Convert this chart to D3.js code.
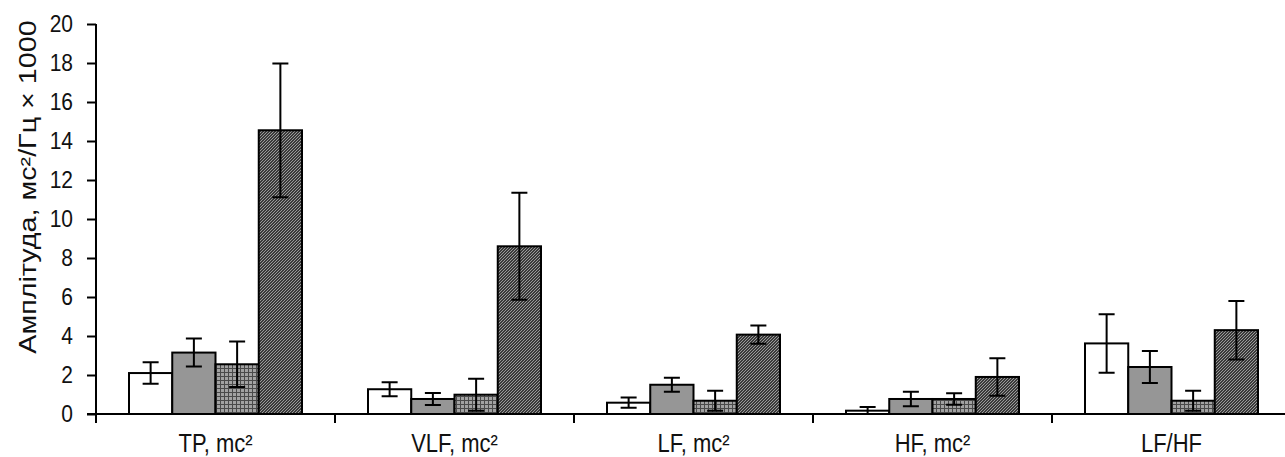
<!DOCTYPE html>
<html lang="uk">
<head>
<meta charset="UTF-8">
<title>Амплітуда спектра</title>
<script src="https://d3js.org/d3.v7.min.js"></script>
<style>
    body { margin: 0; background: #fff; }
    svg { display: block; font-family: "Liberation Sans", Arial, Helvetica, sans-serif; }
    .cat-label { font-size: 22px; fill: #111; }
    .y-title { font-size: 23px; fill: #111; }
    .bar { stroke: #000; stroke-width: 2px; }
    .err { stroke: #000; stroke-width: 2px; fill: none; }
</style>
</head>
<body>
<svg width="1285" height="457"></svg>
<script>
const categories = ["TP, mc²", "VLF, mc²", "LF, mc²", "HF, mc²", "LF/HF"];
const seriesNames = ["g1", "g2", "g3", "g4"];
const means1 = [2.1, 1.27, 0.58, 0.17, 3.62];
const errs1  = [0.55, 0.36, 0.26, 0.19, 1.5];
const means2 = [3.15, 0.77, 1.5, 0.77, 2.41];
const errs2  = [0.72, 0.31, 0.36, 0.37, 0.82];
const means3 = [2.55, 0.99, 0.68, 0.77, 0.68];
const errs3  = [1.17, 0.82, 0.51, 0.3, 0.51];
const means4 = [14.55, 8.6, 4.07, 1.9, 4.3];
const errs4  = [3.43, 2.74, 0.47, 0.96, 1.5];
const yTicks = [0, 2, 4, 6, 8, 10, 12, 14, 16, 18, 20];

const means = [means1, means2, means3, means4];
const errs = [errs1, errs2, errs3, errs4];
const fills = ["#ffffff", "#969696", "url(#grid)", "url(#hatch)"];

const svg = d3.select("svg");
const plotLeft = 96, plotTop = 24, plotBottom = 414, band = 239;
const textStretch = 1.15; // source picture text is a bit taller than wide

// patterns
const defs = svg.append("defs");
const grid = defs.append("pattern").attr("id", "grid")
    .attr("patternUnits", "userSpaceOnUse").attr("width", 4).attr("height", 4);
grid.append("rect").attr("width", 4).attr("height", 4).attr("fill", "#a2a2a2");
grid.append("path").attr("d", "M0.5,0V4M0,0.5H4").attr("stroke", "#4a4a4a").attr("stroke-width", 1);

const hatch = defs.append("pattern").attr("id", "hatch")
    .attr("patternUnits", "userSpaceOnUse").attr("width", 3).attr("height", 3);
hatch.append("rect").attr("width", 3).attr("height", 3).attr("fill", "#3a3a3a");
hatch.append("path").attr("d", "M0,3L3,0M-1,1L1,-1M2,4L4,2").attr("stroke", "#9a9a9a").attr("stroke-width", 1);

const x = d3.scaleBand().domain(categories).range([plotLeft, plotLeft + band * categories.length]);
const xi = d3.scaleBand().domain(seriesNames).range([33, band - 33]);
const y = d3.scaleLinear().domain([0, 20]).range([plotBottom, plotTop]);

// bars
const rows = [];
categories.forEach((c, i) => {
    seriesNames.forEach((s, j) => {
        rows.push({ cat: c, s: s, v: means[j][i], e: errs[j][i], fill: fills[j] });
    });
});

svg.append("g").selectAll("rect").data(rows).join("rect")
    .attr("class", "bar")
    .attr("x", d => x(d.cat) + xi(d.s))
    .attr("y", d => y(d.v))
    .attr("width", xi.bandwidth())
    .attr("height", d => y(0) - y(d.v))
    .attr("fill", d => d.fill);

// error bars
const capW = 8;
svg.append("g").selectAll("path").data(rows).join("path")
    .attr("class", "err")
    .attr("d", d => {
        const cx = x(d.cat) + xi(d.s) + xi.bandwidth() / 2;
        const hi = y(d.v + d.e), lo = y(Math.max(0, d.v - d.e));
        return `M${cx},${hi}V${lo}M${cx - capW},${hi}H${cx + capW}M${cx - capW},${lo}H${cx + capW}`;
    });

// y axis
const yAxis = svg.append("g").attr("transform", `translate(${plotLeft},0)`)
    .call(d3.axisLeft(y).tickValues(yTicks).tickSize(9).tickPadding(14).tickSizeOuter(0));
yAxis.selectAll("path, line").attr("stroke", "#000").attr("stroke-width", 2);
yAxis.select(".domain").attr("d", `M0,${plotTop}V${plotBottom + 9}`);
yAxis.selectAll("text")
    .attr("font-size", 21)
    .attr("font-family", "Liberation Sans, Arial, sans-serif")
    .attr("fill", "#111")
    .attr("transform", `scale(1,${textStretch})`);

// x axis
const xg = svg.append("g");
xg.append("line").attr("x1", plotLeft - 9).attr("x2", 1285).attr("y1", plotBottom).attr("y2", plotBottom)
    .attr("stroke", "#000").attr("stroke-width", 2);
xg.selectAll("line.tk").data(categories.slice(1)).join("line")
    .attr("class", "tk")
    .attr("x1", d => x(d)).attr("x2", d => x(d))
    .attr("y1", plotBottom).attr("y2", plotBottom + 9)
    .attr("stroke", "#000").attr("stroke-width", 2);
xg.selectAll("text").data(categories).join("text")
    .attr("class", "cat-label")
    .attr("transform", d => `translate(${x(d) + x.bandwidth() / 2},452) scale(1,${textStretch})`)
    .attr("text-anchor", "middle")
    .text(d => d);

// y title
svg.append("text").attr("class", "y-title")
    .attr("transform", "translate(36,187) rotate(-90) scale(1.25,1)")
    .attr("text-anchor", "middle")
    .text("Амплітуда, мс²/Гц × 1000");
</script>
</body>
</html>
